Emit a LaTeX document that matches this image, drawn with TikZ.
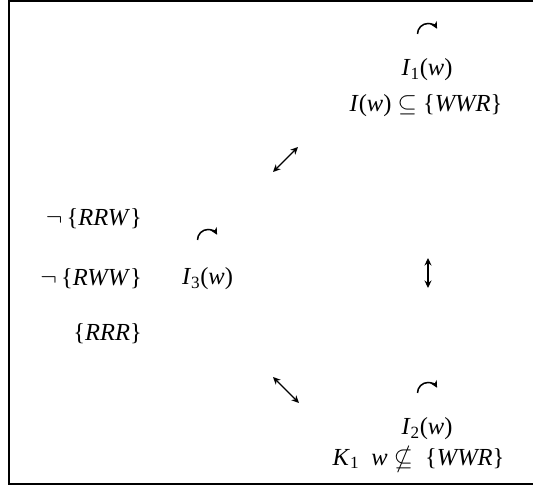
\documentclass[tikz,border=0pt]{standalone}
\usepackage{fontspec}
\usepackage{amssymb}
\setmainfont{Liberation Serif}
\usetikzlibrary{arrows.meta}
\newcommand\vi[1]{\textit{#1}}
\begin{document}
\begin{tikzpicture}[x=1pt,y=-1pt,
  lbl/.style={inner sep=0pt,font=\fontsize{24.5}{28}\selectfont},
  frame/.style={line width=2pt},
  rel/.style={line width=1.1pt,{Stealth[length=7.5pt,width=7pt]}-{Stealth[length=7.5pt,width=7pt]}},
  turn/.style={line width=1.5pt,-{Stealth[length=7pt,width=7pt]}}]
\useasboundingbox (0,0) rectangle (533,486);
% open frame
\draw[frame] (533,1) -- (9,1) -- (9,484) -- (533,484);

% top group
\node[lbl] (i1) at (427,70) {\vi{I}\textsubscript{1}(\vi{w})};
\node[lbl] (c1) at (426,106) {\vi{I}(\vi{w}) $\subseteq$ \{\vi{WWR}\}};
\coordinate (t1) at (428,34);
\draw[turn] (t1) ++(-10.5,0) arc[start angle=180,end angle=330,radius=10.5];

% left group
\node[lbl,anchor=east] (n1) at (142,219) {$\neg$\,\{\vi{RRW}\}};
\node[lbl,anchor=east] (n2) at (142,279) {$\neg$\,\{\vi{RWW}\}};
\node[lbl,anchor=east] (n3) at (142,334) {\{\vi{RRR}\}};
\node[lbl] (i3) at (207.5,279) {\vi{I}\textsubscript{3}(\vi{w})};
\coordinate (t3) at (208,240);
\draw[turn] (t3) ++(-10.5,0) arc[start angle=180,end angle=330,radius=10.5];

% bottom group
\node[lbl] (i2) at (427,429) {\vi{I}\textsubscript{2}(\vi{w})};
\node[lbl] (c2) at (418.5,459) {\vi{K}\textsubscript{1}\ \ \vi{w} $\nsubseteq$ \ \{\vi{WWR}\}};
\coordinate (t2) at (428,393);
\draw[turn] (t2) ++(-10.5,0) arc[start angle=180,end angle=330,radius=10.5];

% relation arrows
\coordinate (a1) at (273,172);
\coordinate (b1) at (298,147);
\draw[rel] (a1) -- (b1);
\coordinate (a2) at (428,258);
\coordinate (b2) at (428,288);
\draw[rel] (a2) -- (b2);
\coordinate (a3) at (273,377);
\coordinate (b3) at (299,403);
\draw[rel] (a3) -- (b3);
\end{tikzpicture}
\end{document}
